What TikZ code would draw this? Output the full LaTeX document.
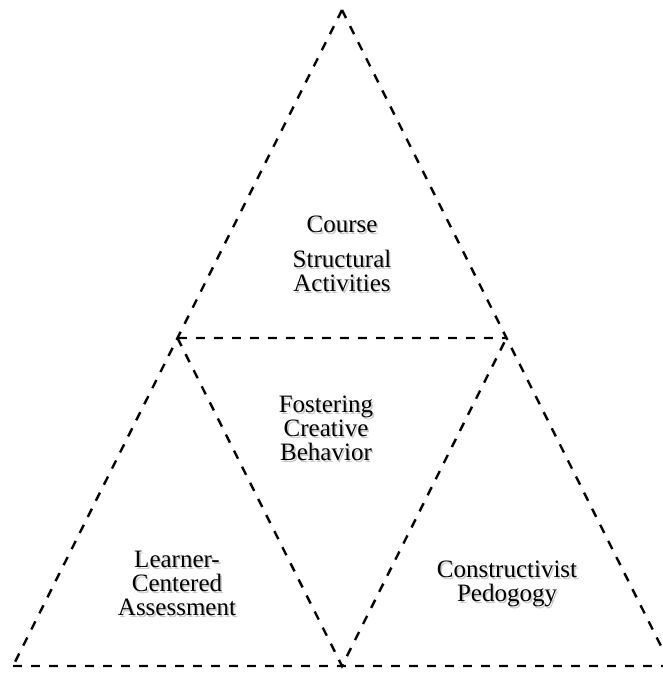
\documentclass[tikz,border=0pt]{standalone}
\usepackage{fontspec}
\setmainfont{Liberation Serif}
% a line of text with a soft grey drop shadow under it
\newcommand{\shline}[1]{\rlap{\kern1.6pt\raisebox{-2pt}{\textcolor{black!22}{#1}}}#1}
\begin{document}
\begin{tikzpicture}[x=1pt,y=-1pt,
  edge/.style={line width=2.3pt,black,dash pattern=on 9pt off 9pt},
  edgeshadow/.style={line width=3.2pt,black!60,opacity=0.18,dash pattern=on 9pt off 9pt},
  label/.style={align=center,font=\fontsize{25}{24}\selectfont,inner sep=0pt}
]
\useasboundingbox (0,0) rectangle (663,673);
\clip (0,0) rectangle (663,673);

% corners of the large triangle and of the inner, upside-down one
\coordinate (apex) at (342,10);
\coordinate (bl) at (13,666);
\coordinate (br) at (671,666);
\coordinate (ml) at (177.5,338);
\coordinate (mr) at (506.5,338);
\coordinate (bm) at (342,666);

% soft shadow under the dashed lines
\begin{scope}[shift={(1.5,1.8)}]
  \draw[edgeshadow] (apex) -- (ml) -- (bl);
  \draw[edgeshadow] (apex) -- (mr) -- (br);
  \draw[edgeshadow] (bl) -- (bm) -- (br);
  \draw[edgeshadow] (ml) -- (mr);
  \draw[edgeshadow] (ml) -- (bm) -- (mr);
\end{scope}

% dashed outlines
\draw[edge] (apex) -- (ml) -- (bl);
\draw[edge] (apex) -- (mr) -- (br);
\draw[edge] (bl) -- (bm) -- (br);
\draw[edge] (ml) -- (mr);
\draw[edge] (ml) -- (bm) -- (mr);

% labels
\node[label] (course) at (342,225) {\shline{Course}};
\node[label] (struct) at (342,272) {\shline{Structural}\\\shline{Activities}};
\node[label] (foster) at (326,429) {\shline{Fostering}\\\shline{Creative}\\\shline{Behavior}};
\node[label] (learner) at (177,584) {\shline{Learner-}\\\shline{Centered}\\\shline{Assessment}};
\node[label] (construct) at (507,585) {\shline{Constructivist}\\\shline{Pedogogy}};
\end{tikzpicture}
\end{document}
